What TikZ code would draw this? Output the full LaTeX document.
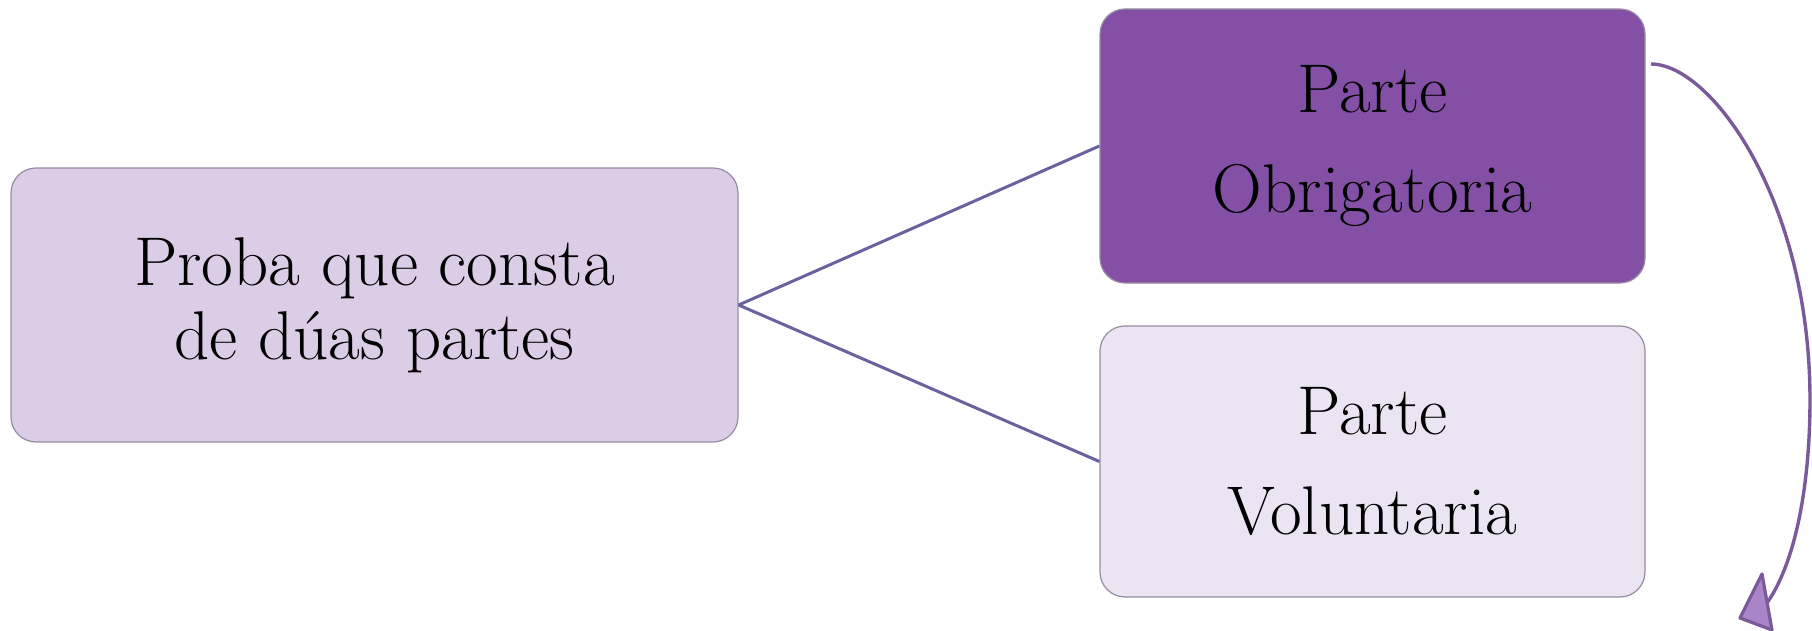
\documentclass[tikz,border=0pt]{standalone}
\usepackage{fontspec}
\definecolor{lineC}{RGB}{106,98,160}
\definecolor{leftF}{RGB}{220,205,230}
\definecolor{topF}{RGB}{131,80,165}
\definecolor{botF}{RGB}{236,228,243}
\definecolor{edgeC}{RGB}{150,140,162}
\definecolor{arrC}{RGB}{123,90,155}
\definecolor{headF}{RGB}{169,133,200}
\begin{document}
\begin{tikzpicture}[x=0.5pt,y=-0.5pt,
  box/.style={draw=edgeC, line width=0.6pt, rounded corners=12.5pt, align=center,
    inner sep=0pt, text=black},
  tightbox/.style={box, font=\fontsize{34.5}{37}\selectfont},
  widebox/.style={box, font=\fontsize{34.5}{50}\selectfont},
  link/.style={draw=lineC, line width=1.5pt},
  curvearrow/.style={draw=arrC, line width=1.7pt},
  headstyle/.style={draw=arrC, fill=headF, line width=1.6pt, line join=round}]
\useasboundingbox (0,0) rectangle (1812,631);
\node[tightbox, fill=leftF, minimum width=363.5pt, minimum height=137pt] (left) at (374.5,305)
  {Proba que consta\\de dúas partes};
\node[widebox, fill=topF, minimum width=272.5pt, minimum height=137pt] (top) at (1372.5,146)
  {Parte\\Obrigatoria};
\node[widebox, fill=botF, minimum width=272.5pt, minimum height=135.5pt] (bot) at (1372.5,461.5)
  {Parte\\Voluntaria};
\draw[link] (left.east) -- (top.west);
\draw[link] (left.east) -- (bot.west);
\coordinate (s) at (1651,64);
\coordinate (m) at (1810,400);
\coordinate (e) at (1767,603);
\draw[curvearrow] (s) .. controls (1711,64) and (1810,200) .. (m)
  .. controls (1810,480) and (1797,560) .. (e);
\coordinate (h1) at (1762,574);
\coordinate (h2) at (1740,618);
\coordinate (h3) at (1772,630);
\path[headstyle] (h1) -- (h2) -- (h3) -- cycle;
\end{tikzpicture}
\end{document}
